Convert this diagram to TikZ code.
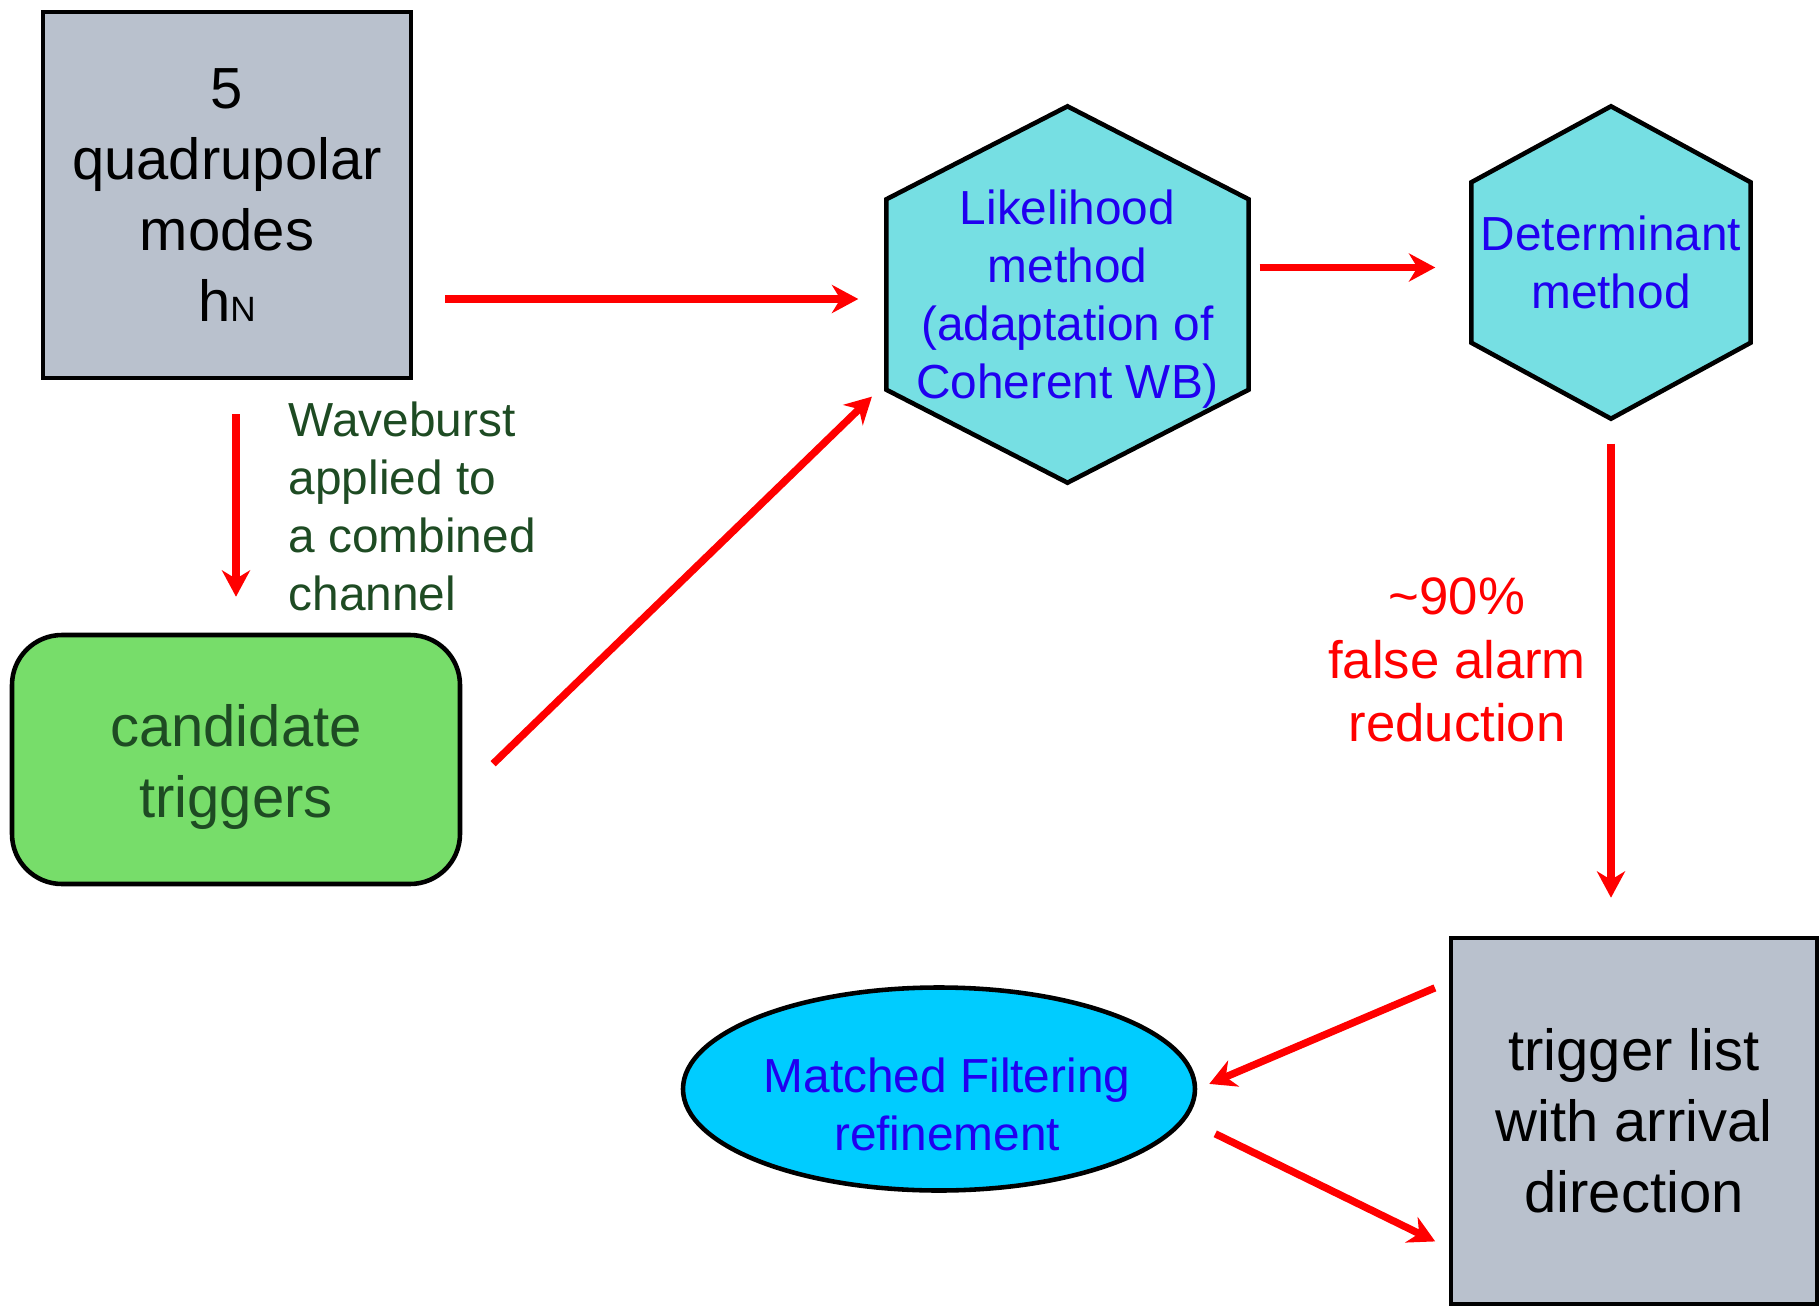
\documentclass[tikz,border=0pt]{standalone}
\usepackage{fontspec}
\setmainfont{Liberation Sans}
\usetikzlibrary{arrows.meta, shapes.geometric, backgrounds}
\definecolor{slate}{HTML}{B9C1CD}
\definecolor{aqua}{HTML}{76DFE3}
\definecolor{skyfill}{HTML}{00CCFF}
\definecolor{leaf}{HTML}{77DD6A}
\definecolor{forest}{HTML}{1E4B23}
\definecolor{methblue}{HTML}{2000F0}

\begin{document}
\begin{tikzpicture}[
  big/.style={font=\fontsize{16.5}{20.2}\selectfont},
  mid/.style={font=\fontsize{13.6}{16.5}\selectfont},
  block/.style={draw=black, line width=1.3pt, fill=slate, align=center,
                inner sep=0pt, big},
  hexnode/.style={inner sep=0pt, align=center, text=methblue, mid},
  hexa/.style={draw=black, line width=1.3pt, fill=aqua, line join=miter},
  flow/.style={-{Stealth[length=7.5pt, width=8pt, inset=2.4pt]}, line width=2.1pt,
               draw=red}
]
\useasboundingbox (0,0) rectangle (18.2,-13.07);

\node[block, minimum width=3.68cm, minimum height=3.66cm] (modes) at (2.27,-1.95)
  {5\\quadrupolar\\modes\\h{\fontsize{10}{10}\selectfont N}};

\node[block, fill=leaf, rounded corners=0.5cm,
      minimum width=4.48cm, minimum height=2.49cm,
      label={[big, text=forest, align=center, yshift=-0.07cm]center:{candidate\\triggers}}]
  (cand) at (2.36,-7.595) {};

\node[mid, text=forest, align=left, anchor=west, inner sep=0pt]
  (wbnote) at (2.88,-5.06)
  {Waveburst\\applied to\\a combined\\channel};

\node[hexnode, minimum width=3.61cm, minimum height=3.75cm,
      label={[hexnode, yshift=-0.05cm]center:{Likelihood\\method\\(adaptation of\\Coherent WB)}}]
  (lik) at (10.675,-2.945) {};

\node[hexnode, minimum width=2.78cm, minimum height=3.11cm] (det) at (16.11,-2.625)
  {Determinant\\method};

\node[font=\fontsize{15}{18}\selectfont, text=red, align=center, inner sep=0pt]
  (cut) at (14.57,-6.6)
  {\textasciitilde 90\%\\false alarm\\reduction};

\node[block, minimum width=3.66cm, minimum height=3.66cm] (trig) at (16.34,-11.21)
  {trigger list\\with arrival\\direction};

\node[ellipse, draw=black, line width=1.3pt, fill=skyfill, inner sep=0pt,
      minimum width=5.12cm, minimum height=2.03cm,
      label={[hexnode, xshift=0.08cm, yshift=-0.15cm]center:{Matched Filtering\\refinement}}]
  (mf) at (9.39,-10.89) {};

% hexagon outlines behind the method texts
\begin{scope}[on background layer]
\draw[hexa] (lik.north) -- ([yshift=-0.93cm]lik.north east)
  -- ([yshift=0.93cm]lik.south east) -- (lik.south)
  -- ([yshift=0.93cm]lik.south west) -- ([yshift=-0.93cm]lik.north west) -- cycle;
\draw[hexa] (det.north) -- ([yshift=-0.76cm]det.north east)
  -- ([yshift=0.76cm]det.south east) -- (det.south)
  -- ([yshift=0.76cm]det.south west) -- ([yshift=-0.76cm]det.north west) -- cycle;
\end{scope}

\draw[flow, shorten <=0.32cm, shorten >=0.28cm]
  ([yshift=-1.04cm]modes.east) -- ([yshift=-1.04cm]modes.east -| lik.west);
\draw[flow, shorten <=0.34cm, shorten >=0.36cm] (cand.north |- modes.south) -- (cand.north);
\draw[flow, shorten <=0.04cm, shorten >=0.2cm]
  ([xshift=0.28cm, yshift=-0.07cm]cand.east) -- ([yshift=1.0cm]lik.south west);
\draw[flow, shorten <=0.11cm, shorten >=0.36cm]
  ([yshift=-0.05cm]lik.east |- det.west) -- ([yshift=-0.05cm]det.west);
\draw[flow, shorten <=0.25cm, shorten >=0.38cm] (det.south) -- (det.south |- trig.north);
\draw[flow, shorten <=0.15cm, shorten >=0.13cm] ([yshift=1.39cm]trig.west) -- (mf.east);
\draw[flow, shorten <=0.2cm, shorten >=0.15cm]
  ([yshift=-0.36cm]mf.east) -- ([yshift=-1.27cm]trig.west);

\end{tikzpicture}
\end{document}
